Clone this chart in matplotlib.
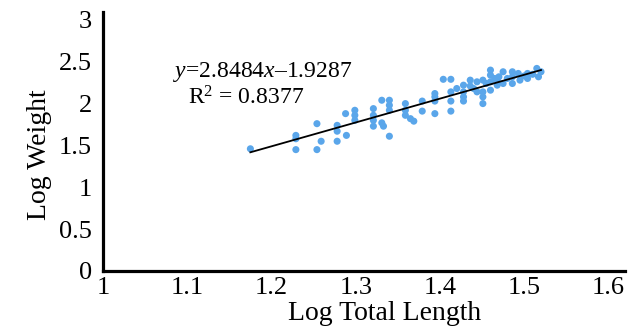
import matplotlib
matplotlib.use("Agg")
import matplotlib.pyplot as plt

plt.rcParams["font.family"] = ["Liberation Serif", "DejaVu Serif"]
plt.rcParams["mathtext.fontset"] = "custom"
plt.rcParams["mathtext.rm"] = "Liberation Serif"
plt.rcParams["mathtext.it"] = "Liberation Serif:italic"

# log total length / log weight
log_length = [
    1.175, 1.229, 1.229, 1.229, 1.254, 1.259, 1.254, 1.278, 1.278, 1.278,
    1.289, 1.288, 1.299, 1.299, 1.299, 1.321, 1.321, 1.321, 1.321, 1.331,
    1.331, 1.333, 1.340, 1.340, 1.340, 1.340, 1.359, 1.359, 1.359, 1.365,
    1.369, 1.379, 1.379, 1.394, 1.394, 1.394, 1.394, 1.404, 1.413, 1.413,
    1.413, 1.413, 1.428, 1.428, 1.428, 1.428, 1.436, 1.436, 1.444, 1.444,
    1.451, 1.451, 1.451, 1.451, 1.460, 1.460, 1.460, 1.460, 1.468, 1.468,
    1.475, 1.475, 1.486, 1.486, 1.486, 1.493, 1.504, 1.504, 1.515, 1.517,
    1.440, 1.470, 1.500, 1.455, 1.420, 1.520, 1.480, 1.495, 1.510, 1.465,
]
log_weight = [
    1.46, 1.62, 1.58, 1.45, 1.76, 1.55, 1.45, 1.74, 1.67, 1.55,
    1.62, 1.88, 1.92, 1.86, 1.80, 1.94, 1.86, 1.80, 1.73, 2.04,
    1.77, 1.73, 2.04, 1.98, 1.92, 1.61, 2.00, 1.92, 1.86, 1.82,
    1.79, 2.03, 1.91, 2.12, 2.08, 2.03, 1.88, 2.29, 2.29, 2.14,
    2.03, 1.91, 2.22, 2.14, 2.08, 2.03, 2.28, 2.21, 2.26, 2.14,
    2.28, 2.14, 2.08, 2.00, 2.40, 2.34, 2.26, 2.16, 2.28, 2.22,
    2.38, 2.24, 2.38, 2.32, 2.24, 2.36, 2.36, 2.30, 2.42, 2.32,
    2.18, 2.32, 2.33, 2.24, 2.18, 2.38, 2.30, 2.28, 2.35, 2.30,
]

slope = 2.8484
intercept = -1.9287
r_squared = 0.8377

xticks = [1, 1.1, 1.2, 1.3, 1.4, 1.5, 1.6]
xticklabels = ["1", "1.1", "1.2", "1.3", "1.4", "1.5", "1.6"]
yticks = [0, 0.5, 1, 1.5, 2, 2.5, 3]
yticklabels = ["0", "0.5", "1", "1.5", "2", "2.5", "3"]

fig = plt.figure(figsize=(6.38, 3.29), dpi=100)
ax = fig.add_axes([0.1614, 0.1763, 0.8186, 0.7872])

ax.scatter(log_length, log_weight, s=26, color="#5aa6ea", edgecolors="none", zorder=2)

x0, x1 = min(log_length), max(log_length)
ax.plot([x0, x1], [slope * x0 + intercept, slope * x1 + intercept],
        color="black", linewidth=1.3, zorder=3)

ax.text(1.083, 2.38, r"$y$=%.4f$x$–%.4f" % (slope, -intercept),
        fontsize=17, va="center", ha="left")
ax.text(1.101, 2.07, r"R$^2$ = %.4f" % r_squared,
        fontsize=17, va="center", ha="left")

ax.set_xlim(1, 1.62)
ax.set_ylim(0, 3.094)
ax.set_xticks(xticks)
ax.set_xticklabels(xticklabels)
ax.set_yticks(yticks)
ax.set_yticklabels(yticklabels)
ax.tick_params(length=0, labelsize=19)
ax.tick_params(axis="y", pad=8)
ax.tick_params(axis="x", pad=4)

for side in ["top", "right"]:
    ax.spines[side].set_visible(False)
for side in ["left", "bottom"]:
    ax.spines[side].set_linewidth(2.3)

ax.set_xlabel("Log Total Length", fontsize=20, labelpad=2, x=0.54)
ax.set_ylabel("Log Weight", fontsize=20, labelpad=5, y=0.45)

fig.savefig("out.png", dpi=100)
